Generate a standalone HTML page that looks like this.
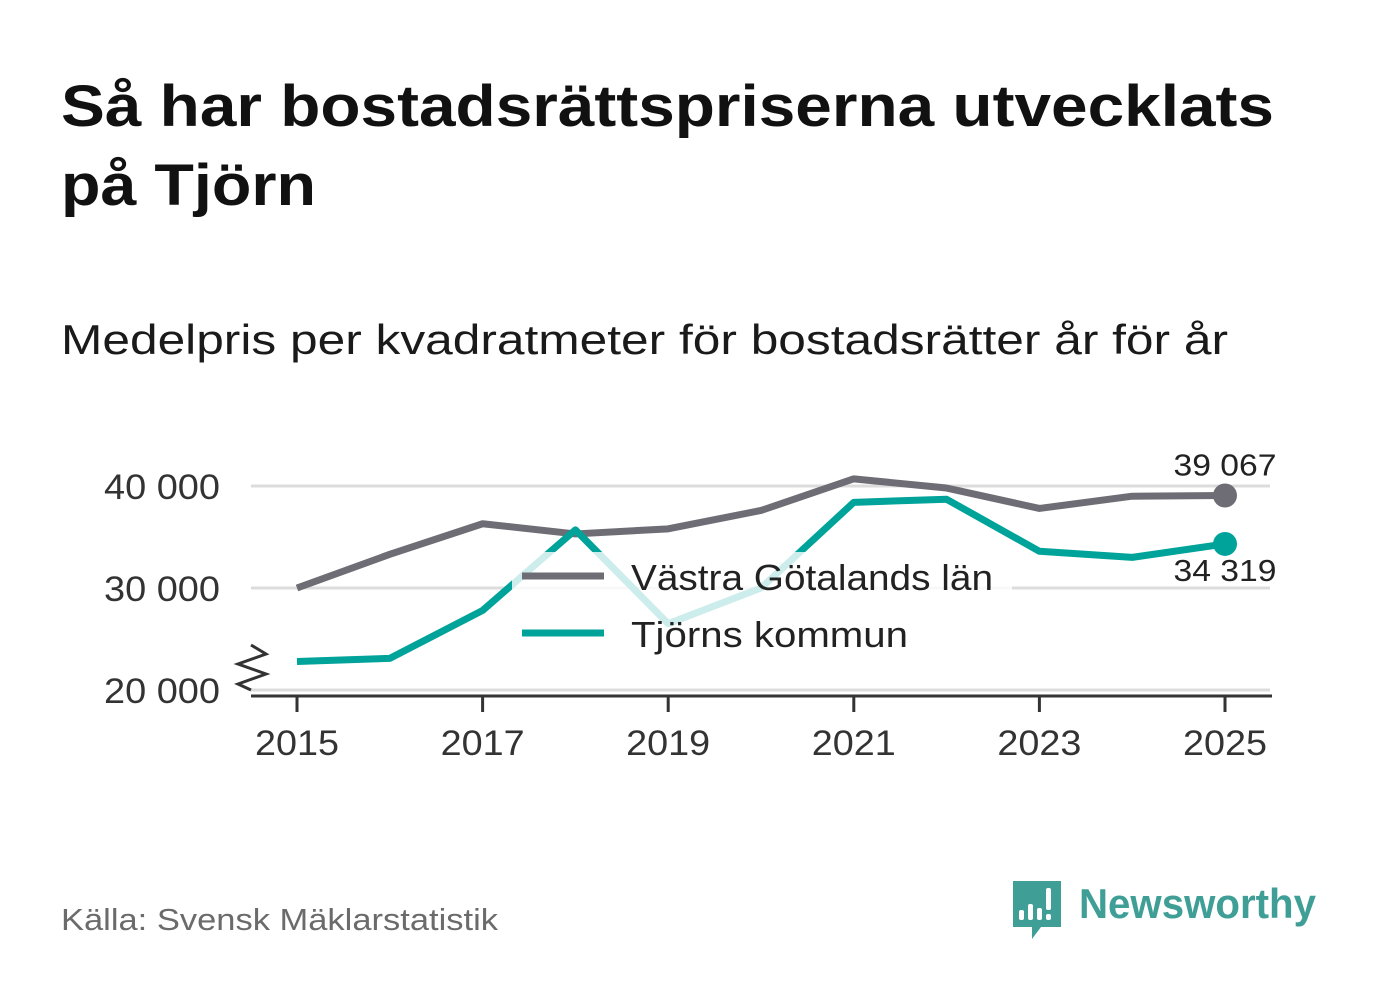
<!DOCTYPE html>
<html><head><meta charset="utf-8"><style>
body{margin:0;width:1382px;height:999px;background:#fff;font-family:"Liberation Sans",sans-serif;overflow:hidden}
</style></head><body>
<svg width="1382" height="999" style="position:absolute;left:0;top:0">
<text x="61" y="126" font-size="58" font-weight="bold" fill="#111" textLength="1213" lengthAdjust="spacingAndGlyphs">Så har bostadsrättspriserna utvecklats</text>
<text x="61" y="205" font-size="58" font-weight="bold" fill="#111" textLength="255" lengthAdjust="spacingAndGlyphs">på Tjörn</text>
<text x="61" y="354" font-size="42" fill="#1a1a1a" textLength="1167" lengthAdjust="spacingAndGlyphs">Medelpris per kvadratmeter för bostadsrätter år för år</text>
<g id="grid"></g>
<g id="lines"></g>
<rect x="512" y="552" width="500" height="108" fill="#fff" fill-opacity="0.8"/>
<g>
<line x1="522" y1="576" x2="604" y2="576" stroke="#6e6d75" stroke-width="7"/>
<text x="631" y="590" font-size="36" fill="#222" textLength="362" lengthAdjust="spacingAndGlyphs">Västra Götalands län</text>
<line x1="522" y1="633" x2="604" y2="633" stroke="#00a39a" stroke-width="7"/>
<text x="631" y="647" font-size="36" fill="#222" textLength="277" lengthAdjust="spacingAndGlyphs">Tjörns kommun</text>
</g>
<polyline points="251,645 266,654 238,664 266,674 238,684 251,690" fill="none" stroke="#333" stroke-width="3"/>
<line x1="251" y1="696" x2="1272" y2="696" stroke="#333" stroke-width="3"/>
<text x="61" y="930" font-size="31" fill="#6b6b6b" textLength="437" lengthAdjust="spacingAndGlyphs">Källa: Svensk Mäklarstatistik</text>
<g>
<path d="M1013,881 h48 v46 h-20 l-9,12 v-12 h-19 z" fill="#3f9f97"/>
<rect x="1019" y="910" width="5" height="10" rx="2" fill="#fff"/>
<rect x="1028" y="904" width="5" height="16" rx="2" fill="#fff"/>
<rect x="1037" y="908" width="5" height="12" rx="2" fill="#fff"/>
<rect x="1046" y="888" width="5" height="22" rx="2" fill="#fff"/>
<rect x="1046" y="914" width="5" height="6" rx="2" fill="#fff"/>
<text x="1079" y="918" font-size="42" font-weight="bold" fill="#3f9f97" textLength="237" lengthAdjust="spacingAndGlyphs">Newsworthy</text>
</g>
</svg>
<script>
const years=[2015,2016,2017,2018,2019,2020,2021,2022,2023,2024,2025];
const vastra=[30000,33300,36300,35300,35800,37600,40700,39800,37800,39000,39067];
const tjorn=[22800,23100,27800,35700,26500,30000,38400,38700,33600,33000,34319];
const yTicks=[20000,30000,40000];
const yTickLabels=["20 000","30 000","40 000"];
const xTicks=[2015,2017,2019,2021,2023,2025];
const NS="http://www.w3.org/2000/svg";
const X=y=>297+(y-2015)*92.8;
const Y=v=>690-(v-20000)*0.0102;
function mk(tag,attrs,parent,txt){const e=document.createElementNS(NS,tag);for(const k in attrs)e.setAttribute(k,attrs[k]);if(txt!==undefined)e.textContent=txt;parent.appendChild(e);return e;}
const grid=document.getElementById('grid'),lines=document.getElementById('lines');
yTicks.forEach((t,i)=>{
 const g=mk('line',{x1:251,x2:1270,y1:Y(t),y2:Y(t),stroke:'#dcdcdc','stroke-width':3},grid);
 
 
 const l=mk('text',{x:220,y:Y(t)+13,'font-size':35,'text-anchor':'end',fill:'#333',textLength:116,lengthAdjust:'spacingAndGlyphs'},grid,yTickLabels[i]);
 
 
});
xTicks.forEach(t=>{
 const k=mk('line',{x1:X(t),x2:X(t),y1:696,y2:712,stroke:'#333','stroke-width':3},grid);
 
 
 const l=mk('text',{x:X(t),y:755,'font-size':35,'text-anchor':'middle',fill:'#333',textLength:84,lengthAdjust:'spacingAndGlyphs'},grid,String(t));
 
 
});
function series(vals,color,name){
 const p=mk('polyline',{points:vals.map((v,i)=>X(years[i])+','+Y(v)).join(' '),fill:'none',stroke:color,'stroke-width':7,'stroke-linejoin':'round'},lines);
 
 
 const n=vals.length-1;
 const c=mk('circle',{cx:X(years[n]),cy:Y(vals[n]),r:12,fill:color},lines);
 
 
}
series(vastra,'#6e6d75','vastra-gotaland');
series(tjorn,'#00a39a','tjorn');
const fmt=v=>String(v).replace(/\B(?=(\d{3})+(?!\d))/g,' ');
const l1=mk('text',{x:1225,y:Y(vastra[10])-20,'font-size':31,'text-anchor':'middle',fill:'#222',textLength:103,lengthAdjust:'spacingAndGlyphs'},lines,fmt(vastra[10]));


const l2=mk('text',{x:1225,y:Y(tjorn[10])+37,'font-size':31,'text-anchor':'middle',fill:'#222',textLength:103,lengthAdjust:'spacingAndGlyphs'},lines,fmt(tjorn[10]));


</script>
</body></html>
